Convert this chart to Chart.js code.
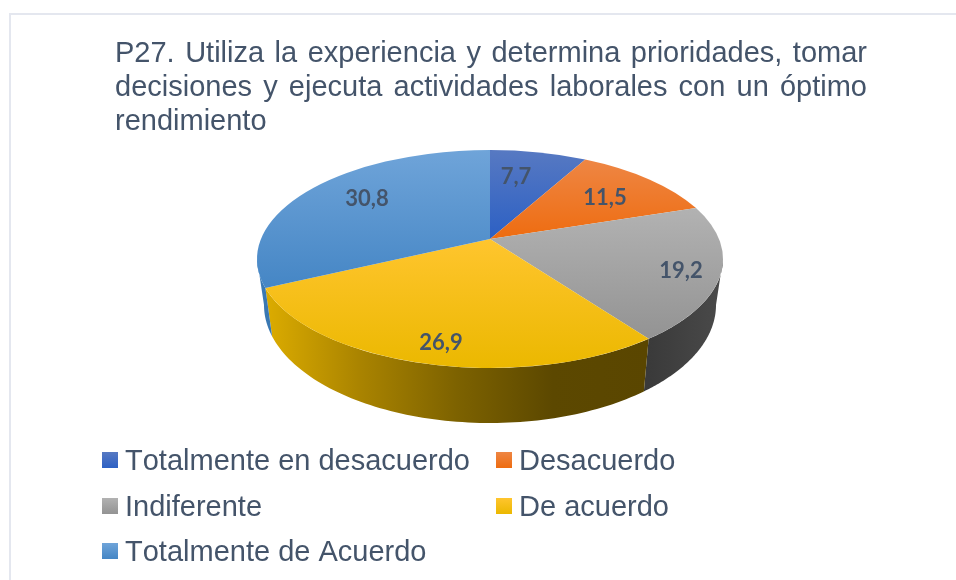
<!DOCTYPE html>
<html>
<head>
<meta charset="utf-8">
<script src="https://cdn.jsdelivr.net/npm/chart.js@4/dist/chart.umd.min.js"></script>
<style>
html,body{margin:0;padding:0;background:#fff;overflow:hidden}
#wrap{position:relative;width:956px;height:580px}
#frame{position:absolute;left:9px;top:13px;right:0;bottom:0;border-left:2px solid #E4E7EF;border-top:2px solid #E4E7EF}
canvas{position:absolute;left:0;top:0}
</style>
</head>
<body>
<div id="wrap"><div id="frame"></div><canvas id="c" width="956" height="580"></canvas></div>
<script>
const categories = ['Totalmente en desacuerdo','Desacuerdo','Indiferente','De acuerdo','Totalmente de Acuerdo'];
const values = [7.7, 11.5, 19.2, 26.9, 30.8];
const titleLines = ['P27. Utiliza la experiencia y determina prioridades, tomar','decisiones y ejecuta actividades laborales con un óptimo','rendimiento'];

const topColors = [['#5779C2','#2C60C4'],['#EE8644','#EE6C10'],['#B2B2B2','#939393'],['#FFC52E','#EBB800'],['#6FA4D9','#4586C5']];
const wallStops = [null,null,['#3A3A3A','#4A4A4A'],['#DCAC00','#A98300','#7D6200','#5C4800','#5A4600'],['#3D80BC','#3A78B2']];
const labelOffsets = [[26,-62],[115,-41],[191,32],[-49,104],[-123,-40]];

const TEXT = '#44546A';
const PIE = {cx:490, apexY:239, topY:259, rx:233, ry:109, botY:305, botRx:226, botRy:118, A:229, B:105.3, k:0.1835};
const TITLE = {x:115, right:867, baselines:[62,96,129.5], font:'29px "Liberation Sans", Arial, sans-serif'};
const LEGEND = {cols:[102,496], rows:[470,516,561], font:'29px "Liberation Sans", Arial, sans-serif', box:16, gap:7};

// rim angle (clockwise from top) of a slice boundary, from the element's angle, seen in perspective
function rimAngle(elAngle){
  const t = elAngle + Math.PI/2;
  const u = Math.sin(t), w = Math.cos(t), d = 1 + PIE.k*w;
  return Math.atan2((PIE.A*u/d)/PIE.rx, (PIE.topY-(PIE.apexY-PIE.B*w/d))/PIE.ry);
}
function norm(a){ while(a<0) a+=Math.PI*2; return a; }

const pie3d = {
  id:'pie3d',
  beforeDatasetDraw(chart, args){
    const ctx = chart.ctx;
    const arcs = chart.getDatasetMeta(args.index).data;
    const spans = arcs.map((el,i)=>{
      const s = i===0 ? 0 : norm(rimAngle(el.startAngle));
      let e = norm(rimAngle(el.endAngle));
      if(i===arcs.length-1) e = Math.PI*2;
      return [s,e];
    });
    const top = a => [PIE.cx+PIE.rx*Math.sin(a), PIE.topY-PIE.ry*Math.cos(a)];
    const bot = a => [PIE.cx+PIE.botRx*Math.sin(a), PIE.botY-PIE.botRy*Math.cos(a)];
    // side walls
    spans.forEach(([s,e],i)=>{
      const a0 = Math.max(s,Math.PI/2), a1 = Math.min(e,Math.PI*1.5);
      if(a1<=a0 || !wallStops[i]) return;
      const xa = top(a0)[0], xb = top(a1)[0];
      const g = ctx.createLinearGradient(Math.min(xa,xb),0,Math.max(xa,xb),0);
      wallStops[i].forEach((c,j,arr)=>g.addColorStop(j/(arr.length-1),c));
      ctx.beginPath();
      const n = 80;
      for(let j=0;j<=n;j++){const p=top(a0+(a1-a0)*j/n); j?ctx.lineTo(p[0],p[1]):ctx.moveTo(p[0],p[1]);}
      for(let j=n;j>=0;j--){const p=bot(a0+(a1-a0)*j/n); ctx.lineTo(p[0],p[1]);}
      ctx.closePath(); ctx.fillStyle=g; ctx.fill();
    });
    // top surface
    spans.forEach(([s,e],i)=>{
      const ys=[PIE.apexY];
      for(let j=0;j<=60;j++) ys.push(top(s+(e-s)*j/60)[1]);
      const g = ctx.createLinearGradient(0,Math.min(...ys),0,Math.max(...ys));
      g.addColorStop(0,topColors[i][0]); g.addColorStop(1,topColors[i][1]);
      ctx.beginPath();
      ctx.moveTo(PIE.cx,PIE.apexY);
      ctx.ellipse(PIE.cx,PIE.topY,PIE.rx,PIE.ry,0,s-Math.PI/2,e-Math.PI/2);
      ctx.closePath(); ctx.fillStyle=g; ctx.fill();
    });
    return false;
  },
  afterDraw(chart){
    const ctx = chart.ctx;
    ctx.save();
    ctx.textBaseline='alphabetic';
    // title, justified
    ctx.fillStyle=TEXT; ctx.font=TITLE.font; ctx.textAlign='left';
    titleLines.forEach((line,i)=>{
      ctx.wordSpacing='0px';
      if(i<titleLines.length-1){
        const sp=(line.match(/ /g)||[]).length;
        ctx.wordSpacing=((TITLE.right-TITLE.x-ctx.measureText(line).width)/sp)+'px';
      }
      ctx.fillText(line,TITLE.x,TITLE.baselines[i]);
    });
    ctx.wordSpacing='0px';
    // data labels
    ctx.font='bold 22px Lato, sans-serif'; ctx.textAlign='center'; ctx.textBaseline='middle';
    values.forEach((v,i)=>{
      ctx.fillText(String(v).replace('.',','),PIE.cx+labelOffsets[i][0],PIE.apexY+labelOffsets[i][1]);
    });
    // legend
    ctx.font=LEGEND.font; ctx.fontKerning='none'; ctx.textAlign='left'; ctx.textBaseline='alphabetic';
    categories.forEach((name,i)=>{
      const x=LEGEND.cols[i%2], y=LEGEND.rows[Math.floor(i/2)];
      const by=y-LEGEND.box-2;
      const g=ctx.createLinearGradient(0,by,0,by+LEGEND.box);
      g.addColorStop(0,topColors[i][0]); g.addColorStop(1,topColors[i][1]);
      ctx.fillStyle=g; ctx.fillRect(x,by,LEGEND.box,LEGEND.box);
      ctx.fillStyle=TEXT; ctx.fillText(name,x+LEGEND.box+LEGEND.gap,y);
    });
    ctx.restore();
  }
};

new Chart(document.getElementById('c'),{
  type:'pie',
  data:{labels:categories,datasets:[{data:values,backgroundColor:topColors.map(c=>c[1]),borderWidth:0}]},
  options:{responsive:false,animation:false,plugins:{legend:{display:false},title:{display:false},tooltip:{enabled:false}}},
  plugins:[pie3d]
});
</script>
</body>
</html>
